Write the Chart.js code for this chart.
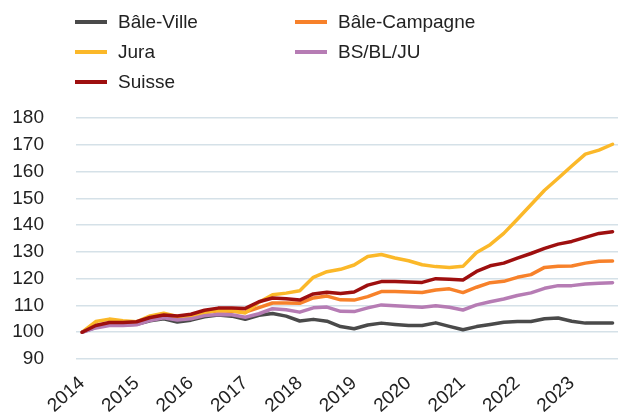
<!DOCTYPE html>
<html>
<head>
<meta charset="utf-8">
<script src="https://cdn.jsdelivr.net/npm/chart.js@4.4.0/dist/chart.umd.min.js"></script>
<style>
  html, body { margin: 0; padding: 0; background: #fff; overflow: hidden; }
  #wrap { position: relative; width: 618px; height: 415px; overflow: hidden; }
  #chart { position: absolute; left: 0; top: 0; }
  #legend {
    position: absolute; left: 75px; top: 7px;
    display: grid; grid-template-columns: 220px auto; grid-auto-rows: 30px;
    font-family: 'Liberation Sans', Arial, sans-serif; font-size: 19px; color: #222;
  }
  .item { display: flex; align-items: center; }
  .swatch { width: 32px; height: 4px; margin-right: 11px; }
</style>
</head>
<body>
<div id="wrap">
  <canvas id="chart" width="618" height="415"></canvas>
  <div id="legend"></div>
</div>
<script>
'use strict';

// year labels, one every 4 quarters (2014 Q1 .. 2023 Q4)
const years = ['2014','2015','2016','2017','2018','2019','2020','2021','2022','2023'];

const baleVille = [100,101.8,103,102.8,103,104.3,105,103.8,104.5,105.8,
  106.4,106,104.8,106.3,107,106,104.2,104.8,104.1,102.1,
  101.3,102.7,103.4,102.9,102.5,102.5,103.5,102.2,100.9,102.1,
  102.9,103.7,104,104,105,105.3,104.1,103.4,103.4,103.4];

const baleCampagne = [100,102.5,103.3,103,103.4,105.5,106.4,105.5,106.1,107.4,
  108,107.8,107.5,109.2,110.9,110.9,110.8,112.8,113.5,112.1,
  112,113.3,115.2,115.2,115,114.8,115.8,116.2,114.8,116.8,
  118.5,119,120.5,121.5,124.2,124.6,124.7,125.8,126.5,126.6];

const jura = [100,104,104.9,104.3,103.9,106.1,107.1,105.9,105.5,107.4,
  108.2,108,107.2,111.2,114,114.6,115.5,120.5,122.6,123.5,
  125.1,128.3,129,127.7,126.7,125.2,124.5,124.2,124.6,129.8,
  132.7,136.9,142.2,147.6,153,157.5,162.1,166.5,168,170.2];

const bsBlJu = [100,101.6,102.5,102.5,102.8,104.4,105.4,104.6,105,106.2,
  106.6,106.5,105.6,106.9,108.8,108.4,107.5,109.1,109.4,107.8,
  107.7,109.1,110.2,109.9,109.6,109.3,109.9,109.3,108.3,110.2,
  111.4,112.4,113.7,114.7,116.4,117.4,117.4,118,118.3,118.5];

const suisse = [100,102.5,103.6,103.6,103.9,105.5,106.4,106.1,106.7,108.2,
  109,109,108.9,111.4,112.8,112.5,112,114.3,114.9,114.5,
  115,117.6,118.9,118.9,118.8,118.6,120,119.8,119.5,122.7,
  124.8,125.8,127.7,129.4,131.3,132.9,133.9,135.4,136.9,137.5];

const yTicks = [90,100,110,120,130,140,150,160,170,180];

const FONT = "'Liberation Sans', Arial, sans-serif";
const TEXT = '#222';

const SERIES = [
  { label: 'Bâle-Ville',    data: baleVille,    color: '#4a4a4a', order: 5 },
  { label: 'Bâle-Campagne', data: baleCampagne, color: '#f7812a', order: 4 },
  { label: 'Jura',          data: jura,         color: '#fbb829', order: 3 },
  { label: 'BS/BL/JU',      data: bsBlJu,       color: '#b67cb4', order: 2 },
  { label: 'Suisse',        data: suisse,       color: '#9e0f0f', order: 1 }
];

// ─── LEGEND (two columns, html) ──────────────────────────────────────────────
const legendEl = document.getElementById('legend');
SERIES.forEach(s => {
  const item = document.createElement('div');
  item.className = 'item';
  item.innerHTML = `<span class="swatch" style="background:${s.color}"></span><span>${s.label}</span>`;
  legendEl.appendChild(item);
});

// ─── LINE CHART ──────────────────────────────────────────────────────────────
new Chart(document.getElementById('chart'), {
  type: 'line',
  data: {
    datasets: SERIES.map(s => ({
      label: s.label,
      data: s.data.map((v, i) => ({ x: i, y: v })),
      borderColor: s.color,
      backgroundColor: s.color,
      borderWidth: 3.5,
      pointRadius: 0,
      tension: 0,
      order: s.order,
      borderJoinStyle: 'round',
      borderCapStyle: 'round'
    }))
  },
  options: {
    responsive: false,
    animation: false,
    layout: { padding: { top: 118, left: 12, right: 0, bottom: 0 } },
    plugins: { legend: { display: false }, tooltip: { enabled: false } },
    scales: {
      x: {
        type: 'linear',
        min: -0.45,
        max: 39.4,
        afterBuildTicks: axis => { axis.ticks = years.map((y, k) => ({ value: k * 4 })); },
        afterFit: axis => { axis.paddingLeft = 0; axis.paddingRight = 0; axis.height = 56; },
        ticks: {
          autoSkip: false,
          minRotation: 42,
          maxRotation: 42,
          padding: 5,
          color: TEXT,
          font: { family: FONT, size: 19 },
          callback: v => years[v / 4]
        },
        grid: { display: false },
        border: { display: false }
      },
      y: {
        min: 90,
        max: 180,
        afterBuildTicks: axis => { axis.ticks = yTicks.map(v => ({ value: v })); },
        afterFit: axis => { axis.width = 64; axis.paddingTop = 0; axis.paddingBottom = 0; },
        ticks: { autoSkip: false, padding: 32, color: TEXT, font: { family: FONT, size: 19 } },
        grid: { color: '#d5e1e8', lineWidth: 1.5, drawTicks: false },
        border: { display: false }
      }
    }
  }
});
</script>
</body>
</html>
